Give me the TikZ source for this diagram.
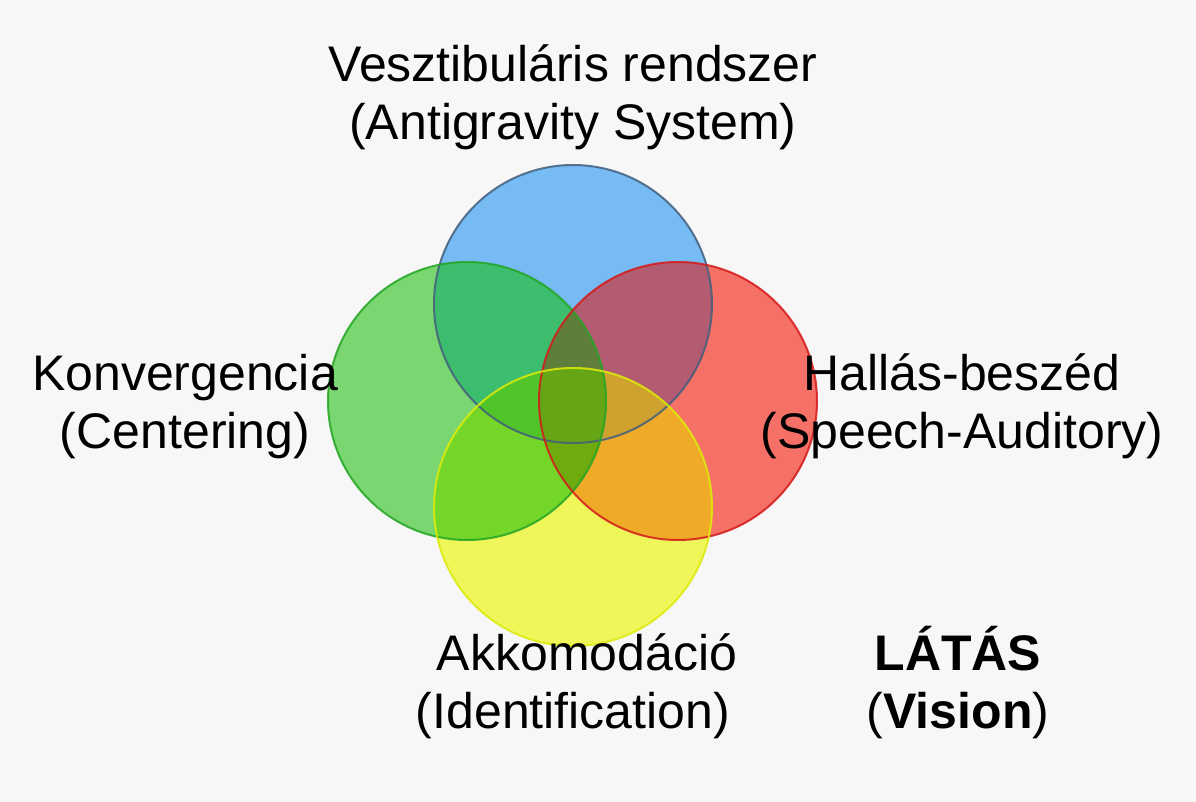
\documentclass[tikz,border=0pt]{standalone}
\usepackage{fontspec}
\setmainfont{Liberation Sans}
\definecolor{bgc}{RGB}{247,247,247}
\definecolor{fB}{HTML}{77BBF5}
\definecolor{fG}{HTML}{7AD670}
\definecolor{fR}{HTML}{F57066}
\definecolor{fY}{HTML}{EEF65A}
\definecolor{fBG}{HTML}{3DBE6E}
\definecolor{fBR}{HTML}{B35B70}
\definecolor{fGY}{HTML}{74D629}
\definecolor{fRY}{HTML}{EFAB28}
\definecolor{fBGR}{HTML}{5F7E3C}
\definecolor{fBGY}{HTML}{50C428}
\definecolor{fBRY}{HTML}{CFA22F}
\definecolor{fGRY}{HTML}{6FAA0E}
\definecolor{fBGRY}{HTML}{66A515}
\definecolor{lB}{HTML}{435F7C}
\definecolor{lG}{HTML}{24A524}
\definecolor{lR}{HTML}{D41A1A}
\definecolor{lY}{HTML}{DCEB0A}
\begin{document}
\begin{tikzpicture}[x=1pt,y=-1pt,
  lbl/.style={font=\fontsize{50}{58}\selectfont, align=center, anchor=base, inner sep=0pt},
  rim/.style={line width=2pt, draw opacity=0.85}]
\fill[bgc] (0,0) rectangle (1196,802);
\useasboundingbox (0,0) rectangle (1196,802);
\coordinate (cB) at (573,304);
\coordinate (cG) at (467,401);
\coordinate (cR) at (678,401);
\coordinate (cY) at (573,507);
\def\rr{139pt}
% single circles
\fill[fB] (cB) circle (\rr);
\fill[fG] (cG) circle (\rr);
\fill[fR] (cR) circle (\rr);
\fill[fY] (cY) circle (\rr);
% pairs
\begin{scope}\clip (cB) circle (\rr); \fill[fBG] (cG) circle (\rr); \end{scope}
\begin{scope}\clip (cB) circle (\rr); \fill[fBR] (cR) circle (\rr); \end{scope}
\begin{scope}\clip (cG) circle (\rr); \fill[fGY] (cY) circle (\rr); \end{scope}
\begin{scope}\clip (cR) circle (\rr); \fill[fRY] (cY) circle (\rr); \end{scope}
% triples
\begin{scope}\clip (cB) circle (\rr); \clip (cG) circle (\rr); \fill[fBGR] (cR) circle (\rr); \end{scope}
\begin{scope}\clip (cB) circle (\rr); \clip (cG) circle (\rr); \fill[fBGY] (cY) circle (\rr); \end{scope}
\begin{scope}\clip (cB) circle (\rr); \clip (cR) circle (\rr); \fill[fBRY] (cY) circle (\rr); \end{scope}
\begin{scope}\clip (cG) circle (\rr); \clip (cR) circle (\rr); \fill[fGRY] (cY) circle (\rr); \end{scope}
% all four
\begin{scope}\clip (cB) circle (\rr); \clip (cG) circle (\rr); \clip (cR) circle (\rr); \fill[fBGRY] (cY) circle (\rr); \end{scope}
% rims
\draw[rim, lB] (cB) circle (\rr);
\draw[rim, lG] (cG) circle (\rr);
\draw[rim, lR] (cR) circle (\rr);
\draw[rim, lY] (cY) circle (\rr);
% labels
\node[lbl] (top) at (573,140) {Vesztibuláris rendszer\\(Antigravity System)};
\node[lbl] (left) at (185,448) {Konvergencia\\(Centering)};
\node[lbl] (right) at (962,448) {Hallás-beszéd\\(Speech-Auditory)};
\node[lbl] (bottom) at (573,728) {\hspace*{28pt}Akkomodáció\\(Identification)};
\node[lbl] (vision) at (958,728) {\textbf{LÁTÁS}\\(\textbf{Vision})};
\end{tikzpicture}
\end{document}
